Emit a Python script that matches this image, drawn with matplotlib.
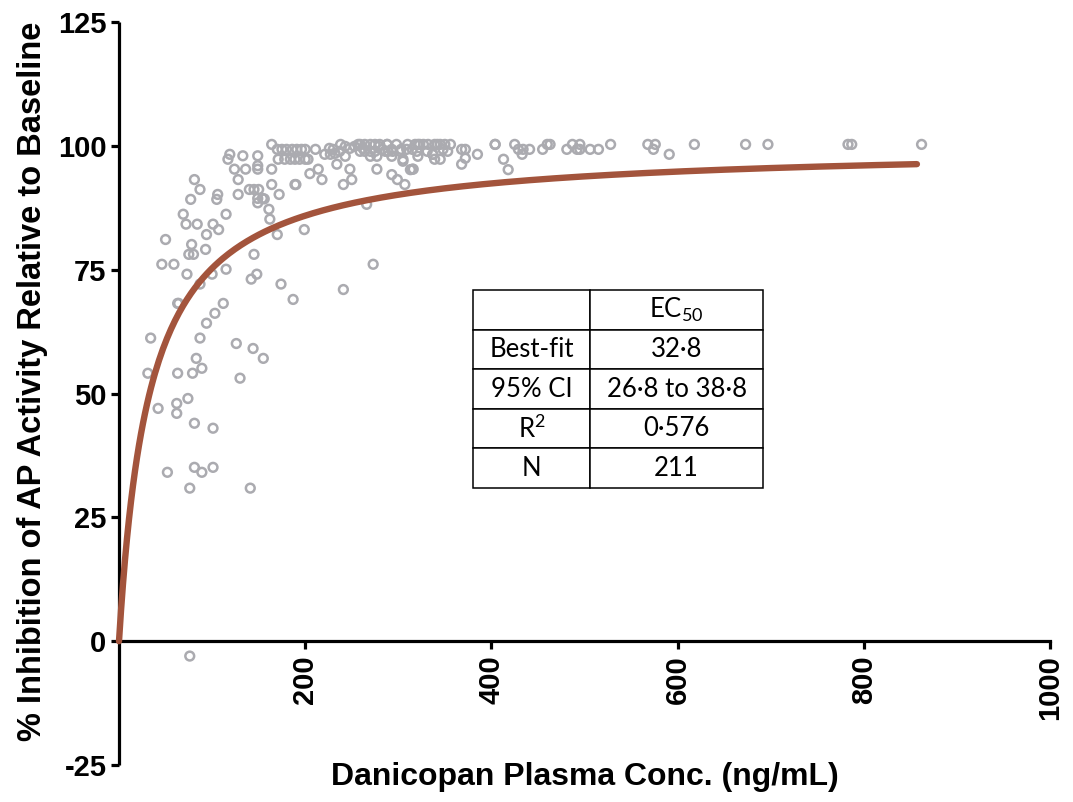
import numpy as np
import matplotlib
matplotlib.use('Agg')
from matplotlib import pyplot as plt

# scatter data (conc ng/mL, % inhibition)
conc = [117, 119, 133, 149, 164, 149, 124, 136, 149, 164,
        170, 175, 180, 186, 191, 196, 200,
        171, 178, 184, 189, 194, 200, 203,
        211, 221, 227, 232, 237, 243, 248, 253, 259, 230,
        234, 164, 189, 214, 205, 218, 248, 250, 241, 149, 154,
        288, 293, 286, 305, 313, 323, 342, 337, 345, 257,
        259, 264, 270, 275, 280, 288,
        264, 270, 275, 289, 294, 302,
        270, 277, 293,
        309, 315, 321, 327, 332, 339, 345, 350, 356, 368,
        320, 331, 337, 353, 348,
        305, 321, 339,
        277, 315, 316,
        293, 299, 307,
        266, 273,
        372, 372, 368, 385, 404, 404, 413, 418, 425, 429, 433, 434, 441,
        455, 460, 463, 481, 487, 492, 495, 495, 506, 515, 528, 568, 576,
        574, 591, 618, 673, 697, 783, 787, 862,
        81, 87, 77, 105, 106, 128, 128, 140, 145, 150, 190, 172, 156, 149,
        161, 162, 170, 199, 69, 72, 84, 101, 107, 115, 94, 50, 78, 75, 80,
        93, 145, 46, 59, 73, 100, 115, 148, 142, 174, 187, 241, 87, 63, 64,
        112, 103, 94, 87, 34, 126, 144, 155, 83, 31, 63, 79, 89, 130,
        74, 62, 42, 62, 81, 101, 52, 81, 89, 101, 76, 141, 76,
        298, 303, 283, 262, 226, 238, 243, 279, 310, 318]
inhib = [97.3, 98.3, 98.0, 98.0, 100.3, 96.0, 95.3, 95.3, 95.3, 95.3,
         99.3, 99.3, 99.3, 99.3, 99.3, 99.3, 99.3,
         97.3, 97.3, 97.3, 97.3, 97.3, 97.3, 97.3,
         99.3, 98.3, 98.3, 98.5, 98.9, 97.9, 99.5, 99.9, 98.9, 99.3,
         96.3, 92.2, 92.2, 95.3, 94.4, 93.2, 95.3, 93.2, 92.2, 89.4, 89.4,
         100.3, 99.3, 98.9, 96.9, 95.2, 100.3, 100.3, 98.3, 97.3, 100.3,
         100.3, 100.3, 100.3, 100.3, 100.3, 100.3,
         98.9, 98.9, 98.9, 98.9, 98.9, 98.9,
         97.9, 97.9, 97.9,
         99.3, 99.3, 100.3, 100.3, 100.3, 100.3, 100.3, 100.3, 100.3, 99.3,
         98.9, 98.9, 98.3, 98.9, 99.3,
         97.3, 97.9, 97.3,
         95.3, 95.3, 95.3,
         94.2, 93.2, 92.2,
         88.2, 76.1,
         97.5, 99.3, 96.3, 98.3, 100.3, 100.3, 97.3, 95.2, 100.3, 99.3, 98.3, 99.3, 99.3,
         99.3, 100.3, 100.3, 99.3, 100.3, 99.3, 100.3, 99.3, 99.3, 99.3, 100.3, 100.3, 100.3,
         99.3, 98.3, 100.3, 100.3, 100.3, 100.3, 100.3, 100.3,
         93.2, 91.2, 89.2, 89.2, 90.2, 93.2, 90.2, 91.2, 91.2, 91.2, 92.2, 90.2, 89.3, 88.5,
         87.2, 85.2, 82.1, 83.1, 86.2, 84.2, 84.2, 84.2, 83.1, 86.2, 82.1, 81.1, 80.1, 78.1, 78.1,
         79.1, 78.1, 76.1, 76.1, 74.1, 74.1, 75.1, 74.1, 73.1, 72.1, 69.0, 71.0, 72.1, 68.2, 68.2,
         68.2, 66.2, 64.2, 61.2, 61.2, 60.1, 59.1, 57.1, 57.1, 54.1, 54.1, 54.1, 55.1, 53.1,
         49.0, 48.0, 47.0, 46.0, 44.0, 43.0, 34.1, 35.1, 34.1, 35.1, 30.9, 30.9, -3.0,
         100.3, 99.3, 99.3, 99.5, 99.5, 100.3, 99.9, 99.9, 100.3, 100.3]

# fit results shown in the inset table
ec50 = 32.8
fit_max = 857
table_rows = [['', 'EC$_\\mathregular{50}$'],
              ['Best-fit', '32·8'],
              ['95% CI', '26·8 to 38·8'],
              ['R$^\\mathregular{2}$', '0·576'],
              ['N', '211']]

x_ticks = [200, 400, 600, 800, 1000]
y_ticks = [-25, 0, 25, 50, 75, 100, 125]

plt.rcParams['font.family'] = ['Liberation Sans', 'DejaVu Sans']

fig = plt.figure(figsize=(10.73, 8.02), dpi=100, facecolor='white')
ax = fig.add_axes([0.1109, 0.0461, 0.8677, 0.9264])

ax.scatter(conc, inhib, s=40, facecolors='none', edgecolors='#ABABB0',
           linewidths=1.8, zorder=2, clip_on=False)

xf = np.linspace(0, fit_max, 400)
yf = 100 * xf / (ec50 + xf)
ax.plot(xf, yf, color='#A3543C', lw=4.6, solid_capstyle='round', zorder=3, clip_on=False)

ax.set_xlim(0, 1000)
ax.set_ylim(-25, 125)

for s in ['top', 'right']:
    ax.spines[s].set_visible(False)
ax.spines['bottom'].set_position(('data', 0))
ax.spines['left'].set_linewidth(2.3)
ax.spines['bottom'].set_linewidth(2.3)
ax.spines['left'].set_capstyle('butt')

ax.set_xticks(x_ticks)
ax.set_yticks(y_ticks)
ax.set_xticklabels([str(v) for v in x_ticks], rotation=90, fontsize=21, fontweight='bold')
ax.set_yticklabels([str(v) for v in y_ticks], fontsize=21, fontweight='bold')
ax.tick_params(axis='both', direction='out', length=6, width=2.3, pad=3)
ax.tick_params(axis='x', pad=4)

ax.set_xlabel('Danicopan Plasma Conc. (ng/mL)', fontsize=23, fontweight='bold', va='center')
ax.xaxis.set_label_coords(0.5, -0.016)
ax.set_ylabel('% Inhibition of AP Activity Relative to Baseline', fontsize=23.5,
              fontweight='bold', va='center')
ax.yaxis.set_label_coords(-0.093, 0.517)

tab = ax.table(cellText=table_rows, colWidths=[117, 173], cellLoc='center',
               bbox=[0.380, 0.373, 0.312, 0.266])
tab.auto_set_font_size(False)
tab.set_fontsize(18.5)
for cell in tab.get_celld().values():
    cell.set_linewidth(1.1)
    cell.set_edgecolor('black')
    cell.get_text().set_fontfamily(['Lato', 'DejaVu Sans'])

fig.savefig('out.png', dpi=100, facecolor='white')
